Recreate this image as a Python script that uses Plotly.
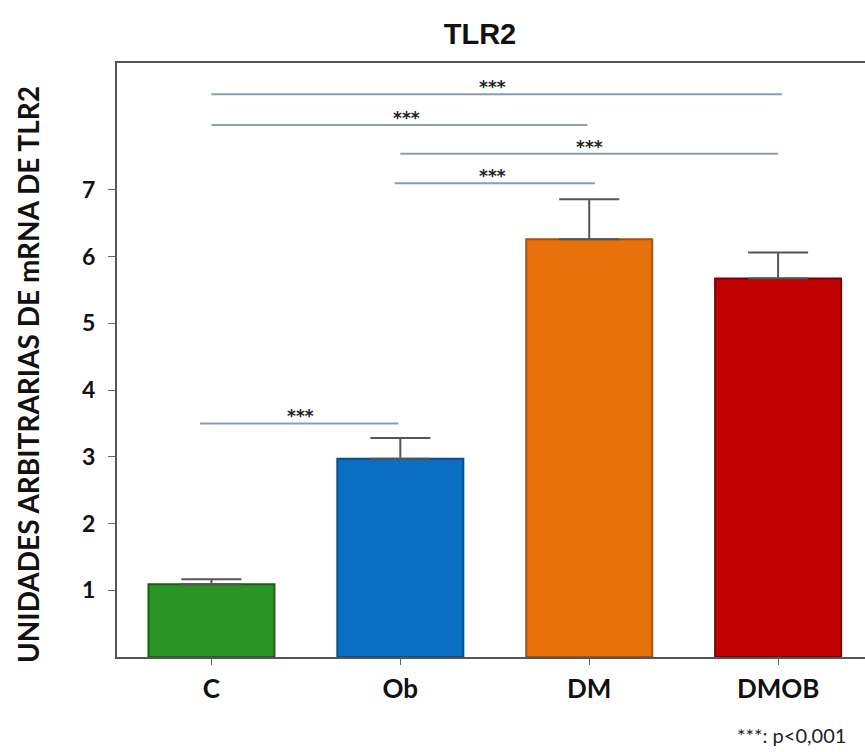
import plotly.graph_objects as go

categories = ["C", "Ob", "DM", "DMOB"]
values = [1.09, 2.97, 6.26, 5.67]
errors = [0.075, 0.31, 0.60, 0.39]
fill_colors = ["#2a9424", "#0a6fc2", "#e8710c", "#c00000"]
edge_colors = ["#1d5e1a", "#0b4f8a", "#a6520c", "#7a0000"]

# significance brackets: start index, end index, level, star position
sig_start = [0.0, 0.0, 1.0, 0.97, -0.06]
sig_end = [3.02, 1.99, 3.0, 2.03, 0.99]
sig_level = [8.43, 7.97, 7.54, 7.10, 3.50]
sig_star_x = [1.49, 1.03, 2.0, 1.49, 0.47]
sig_label = ["***", "***", "***", "***", "***"]

FONT = "Lato"

fig = go.Figure()
fig.add_trace(go.Bar(
    x=list(range(len(categories))), y=values,
    width=0.667,
    marker=dict(color=fill_colors, line=dict(color=edge_colors, width=2)),
    error_y=dict(type="data", array=errors, symmetric=False, arrayminus=[0]*4,
                 color="#555555", thickness=2, width=30),
    showlegend=False,
))

for xs, xe, lv in zip(sig_start, sig_end, sig_level):
    fig.add_trace(go.Scatter(x=[xs, xe], y=[lv, lv], mode="lines",
                             line=dict(color="#8d9cab", width=2),
                             showlegend=False, hoverinfo="skip"))

for sx, lv, lab in zip(sig_star_x, sig_level, sig_label):
    fig.add_annotation(x=sx, y=lv, text="<b>%s</b>" % lab, showarrow=False,
                       xanchor="center", yanchor="bottom", yshift=-5,
                       font=dict(family="DejaVu Sans", size=17, color="#222222"))

fig.add_annotation(xref="paper", yref="paper", x=0.977, y=-0.131,
                   text="***: p<0,001", showarrow=False, xanchor="right",
                   yanchor="middle", font=dict(family=FONT, size=20, color="#222222"))

# y-axis title placed as rotated annotation
fig.add_annotation(xref="paper", yref="paper", x=(28 - 117) / 748, y=(657 - 375) / 594,
                   text="<b>UNIDADES ARBITRARIAS DE mRNA DE TLR2</b>", showarrow=False,
                   textangle=-90, xanchor="center", yanchor="middle",
                   font=dict(family=FONT, size=28, color="#111111"))

fig.update_layout(
    width=865, height=752,
    margin=dict(l=117, r=0, t=63, b=95),
    paper_bgcolor="white", plot_bgcolor="white",
    title=dict(text="<b>TLR2</b>", x=480/865, xanchor="center",
               y=1 - 34/752, yanchor="middle",
               font=dict(family="Liberation Sans", size=29, color="#111111")),
    font=dict(family=FONT, color="#111111"),
    xaxis=dict(range=[-0.5, 3.46], tickmode="array",
               tickvals=list(range(len(categories))),
               ticktext=["<b>%s</b>" % c for c in categories],
               tickfont=dict(family=FONT, size=26, color="#111111"),
               showline=True, linecolor="#555555", linewidth=2, mirror=True,
               ticks="outside", ticklen=6, tickcolor="#666666", tickwidth=1,
               ticklabelstandoff=2,
               showgrid=False, zeroline=False, fixedrange=True),
    yaxis=dict(range=[0, 8.9], tickmode="array", tickvals=[1, 2, 3, 4, 5, 6, 7],
               ticktext=["<b>%d</b>" % v for v in [1, 2, 3, 4, 5, 6, 7]],
               tickfont=dict(family=FONT, size=23, color="#111111"),
               showline=True, linecolor="#555555", linewidth=2,
               ticks="outside", ticklen=7, tickcolor="#666666", tickwidth=1,
               ticklabelstandoff=8,
               showgrid=False, zeroline=False),
)

fig.write_html("out.html")
